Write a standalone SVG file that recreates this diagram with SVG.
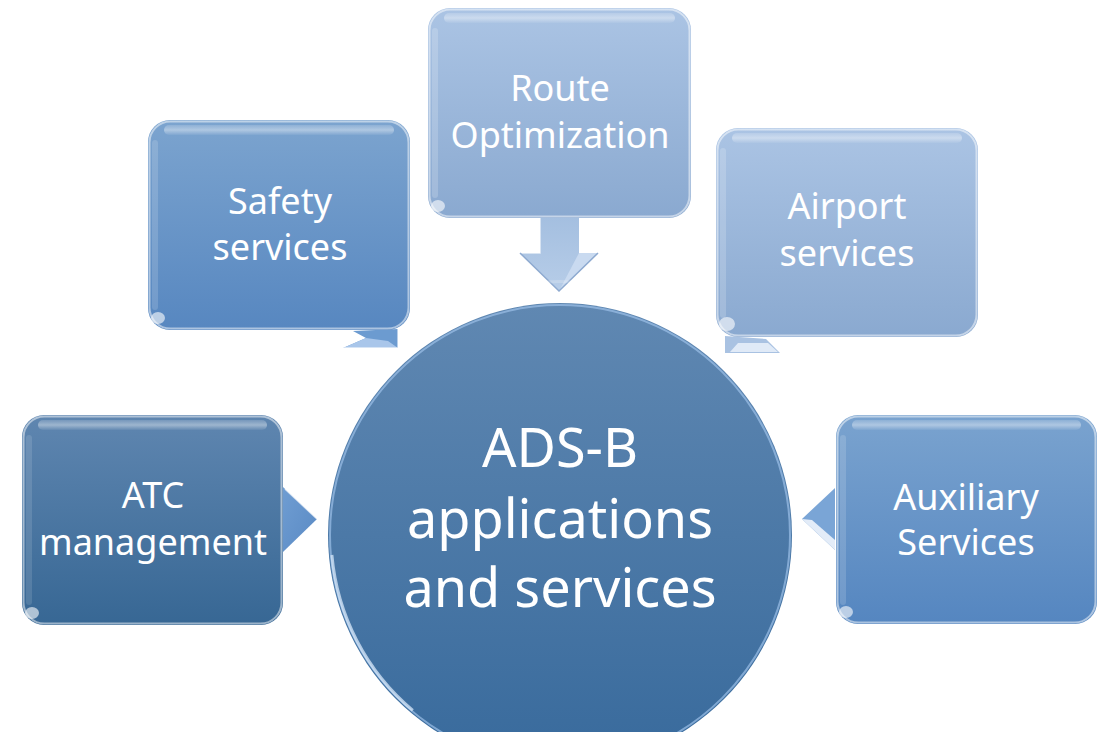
<svg xmlns="http://www.w3.org/2000/svg" width="1102" height="732" viewBox="0 0 1102 732">
<style>
.lbl{font-family:"Noto Sans","Open Sans","Liberation Sans",sans-serif;fill:#ffffff;text-anchor:middle}
.box{font-size:36px}
.big{font-size:54px}
.rim{fill:none;stroke:#ffffff;stroke-opacity:0.5;stroke-width:2}
.hl{fill:url(#gHl)}
.spot{fill:#ffffff;opacity:0.6}
.edge{fill:none;stroke:#ffffff;stroke-opacity:0.7;stroke-width:1.5}
</style>
<defs>
<linearGradient id="gMid" x1="0" y1="0" x2="0" y2="1"><stop offset="0" stop-color="#7ca4cf"/><stop offset="1" stop-color="#5787c0"/></linearGradient>
<linearGradient id="gLight" x1="0" y1="0" x2="0" y2="1"><stop offset="0" stop-color="#abc4e4"/><stop offset="1" stop-color="#8aa9d0"/></linearGradient>
<linearGradient id="gDark" x1="0" y1="0" x2="0" y2="1"><stop offset="0" stop-color="#5f86b0"/><stop offset="1" stop-color="#376794"/></linearGradient>
<linearGradient id="gAux" x1="0" y1="0" x2="0" y2="1"><stop offset="0" stop-color="#7aa3cf"/><stop offset="1" stop-color="#5586c0"/></linearGradient>
<linearGradient id="gCirc" x1="0" y1="0" x2="0" y2="1"><stop offset="0" stop-color="#6088b2"/><stop offset="1" stop-color="#386a9c"/></linearGradient>
<linearGradient id="gArrL" x1="0" y1="0" x2="0" y2="1"><stop offset="0" stop-color="#a4bfe0"/><stop offset="1" stop-color="#b7cde8"/></linearGradient>
<linearGradient id="gArrM" x1="0" y1="0" x2="1" y2="1"><stop offset="0" stop-color="#6f9dd2"/><stop offset="1" stop-color="#5a8ac4"/></linearGradient>
<linearGradient id="gHl" x1="0" y1="0" x2="0" y2="1"><stop offset="0" stop-color="#ffffff" stop-opacity="0.15"/><stop offset="0.5" stop-color="#ffffff" stop-opacity="0.4"/><stop offset="1" stop-color="#ffffff" stop-opacity="0.05"/></linearGradient>
</defs>

<g id="connectors">
  <path d="M353,331 L366,338 L343,348 L398,348 L398,329 Z" fill="#6c9bd0"/>
  <path d="M366,338 L343,348 L398,348 L388,341 Z" fill="#a9c6ea"/>
  <path d="M343,348 L398,348 L398,329" class="edge"/>
  <path d="M540,217 L579,217 L579,253 L598,253 L559,291 L520,253 L540,253 Z" fill="url(#gArrL)"/>
  <path d="M579,253 L598,253 L559,291 Z" fill="#c9daf0"/>
  <path d="M540,217 L540,253 L520,253" class="edge"/>
  <path d="M520,253 L559,291 L598,253" fill="none" stroke="#8eaad0" stroke-width="1.5"/>
  <path d="M725,336 L725,353 L780,353 L766,339 Z" fill="#a9c2e2"/>
  <path d="M730,352 L778,352 L768,343 L738,343 Z" fill="#e6eef9" opacity="0.9"/>
  <path d="M283,487 L317,519 L283,552 Z" fill="url(#gArrM)"/>
  <path d="M285,489 L317,519" class="edge"/>
  <path d="M835,488 L802,519 L835,550 Z" fill="#7aa5d6"/>
  <path d="M802,519 L835,550 L835,540 L812,520 Z" fill="#e3ecf8"/>
</g>

<g id="node-safety">
  <rect x="148" y="120" width="262" height="210" rx="22" fill="url(#gMid)"/>
  <rect x="149.5" y="121.5" width="259" height="207" rx="21" class="rim"/>
  <rect x="164" y="125" width="230" height="10" rx="5" class="hl"/>
  <rect x="152" y="140" width="6" height="170" rx="3" fill="#ffffff" opacity="0.15"/>
  <ellipse cx="158" cy="318" rx="7" ry="6" class="spot"/>
  <text class="lbl box" x="280" y="214">Safety</text>
  <text class="lbl box" x="280" y="260">services</text>
</g>

<g id="node-route">
  <rect x="428" y="8" width="263" height="210" rx="22" fill="url(#gLight)"/>
  <rect x="429.5" y="9.5" width="260" height="207" rx="21" class="rim"/>
  <rect x="444" y="13" width="231" height="10" rx="5" class="hl"/>
  <rect x="432" y="28" width="6" height="170" rx="3" fill="#ffffff" opacity="0.18"/>
  <ellipse cx="438" cy="206" rx="7" ry="6" class="spot"/>
  <text class="lbl box" x="560" y="101">Route</text>
  <text class="lbl box" x="560" y="148">Optimization</text>
</g>

<g id="node-airport">
  <rect x="716" y="128" width="262" height="209" rx="22" fill="url(#gLight)"/>
  <rect x="717.5" y="129.5" width="259" height="206" rx="21" class="rim"/>
  <rect x="732" y="133" width="230" height="10" rx="5" class="hl"/>
  <rect x="720" y="148" width="6" height="170" rx="3" fill="#ffffff" opacity="0.18"/>
  <ellipse cx="727" cy="324" rx="8" ry="7" class="spot"/>
  <text class="lbl box" x="847" y="219">Airport</text>
  <text class="lbl box" x="847" y="266">services</text>
</g>

<g id="node-atc">
  <rect x="22" y="415" width="261" height="210" rx="22" fill="url(#gDark)"/>
  <rect x="23.5" y="416.5" width="258" height="207" rx="21" class="rim"/>
  <rect x="38" y="420" width="229" height="10" rx="5" class="hl"/>
  <rect x="26" y="435" width="6" height="170" rx="3" fill="#ffffff" opacity="0.12"/>
  <ellipse cx="32" cy="613" rx="7" ry="6" class="spot"/>
  <text class="lbl box" x="153" y="508">ATC</text>
  <text class="lbl box" x="153" y="555">management</text>
</g>

<g id="node-auxiliary">
  <rect x="836" y="415" width="261" height="209" rx="22" fill="url(#gAux)"/>
  <rect x="837.5" y="416.5" width="258" height="206" rx="21" class="rim"/>
  <rect x="852" y="420" width="229" height="10" rx="5" class="hl"/>
  <rect x="840" y="435" width="6" height="170" rx="3" fill="#ffffff" opacity="0.15"/>
  <ellipse cx="846" cy="612" rx="7" ry="6" class="spot"/>
  <text class="lbl box" x="966" y="510">Auxiliary</text>
  <text class="lbl box" x="966" y="555">Services</text>
</g>

<g id="node-center">
  <circle cx="560" cy="535" r="232" fill="url(#gCirc)"/>
  <circle cx="560" cy="535" r="230" fill="none" stroke="#9cc0e8" stroke-width="2" stroke-opacity="0.7"/>
  <path d="M331.9,555 A229,229 0 0 0 412.8,710.4" fill="none" stroke="#d8e8fa" stroke-width="3" stroke-opacity="0.75"/>
  <path d="M420,330 A226,226 0 0 1 700,330" fill="none" stroke="#ffffff" stroke-width="3" stroke-opacity="0.2"/>
  <text class="lbl big" x="560" y="467">ADS-B</text>
  <text class="lbl big" x="560" y="538">applications</text>
  <text class="lbl big" x="560" y="607">and services</text>
</g>
</svg>
